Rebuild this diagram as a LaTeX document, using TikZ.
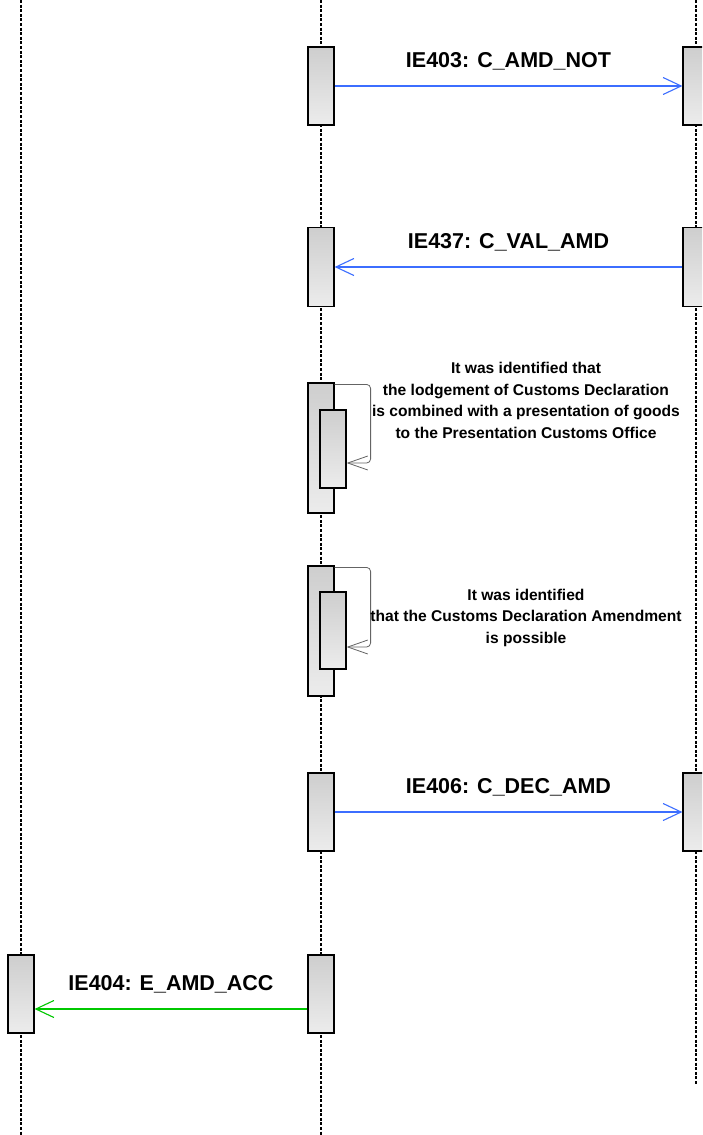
\documentclass[tikz,border=0pt]{standalone}
\usepackage{fontspec}
\setmainfont{Liberation Sans}
\usetikzlibrary{arrows.meta,calc}
\definecolor{msgblue}{RGB}{60,110,255}
\definecolor{msggreen}{RGB}{0,200,0}
\definecolor{loopgray}{RGB}{100,100,100}
\definecolor{boxtop}{RGB}{206,206,206}
\definecolor{boxbot}{RGB}{236,236,236}
\begin{document}
\begin{tikzpicture}[x=1pt,y=-1pt,
  lifeline/.style={line width=1.6pt, dash pattern=on 3pt off 1.6pt},
  actbox/.style={draw=black, line width=1.2pt, top color=boxtop, bottom color=boxbot, minimum width=26pt, inner sep=0pt},
  msg/.style={line width=1.1pt, -{Straight Barb[length=18pt,width=17pt,line width=1.1pt]}},
  lbl/.style={font=\bfseries\fontsize{21.5}{24}\selectfont, yshift=25pt},
  note/.style={font=\bfseries\fontsize{15.6}{21.5}\selectfont, align=center},
  selfloop/.style={draw=loopgray, line width=0.8pt, rounded corners=4pt, -{Straight Barb[length=20pt,width=14pt,line width=0.8pt]}}
]
\clip (0,0) rectangle (702,1135);
\fill[white] (0,0) rectangle (702,1135);
% lifelines
\coordinate (Ltop) at (21,0);
\coordinate (Lbot) at (21,1135);
\coordinate (Mtop) at (321,0);
\coordinate (Mbot) at (321,1135);
\coordinate (Rtop) at (696,0);
\coordinate (Rbot) at (696,1085);
\draw[lifeline] (Ltop) -- (Lbot);
\draw[lifeline] (Mtop) -- (Mbot);
\draw[lifeline] (Rtop) -- (Rbot);
% activation boxes
\node[actbox, minimum height=78pt] (m1) at (321,86) {};
\node[actbox, minimum height=78pt] (r1) at (696,86) {};
\node[actbox, minimum height=79pt] (m2) at (321,267) {};
\node[actbox, minimum height=79pt] (r2) at (696,267) {};
\node[actbox, minimum height=130pt] (m3) at (321,448) {};
\node[actbox, minimum height=78pt] (i3) at (333,449) {};
\node[actbox, minimum height=130pt] (m4) at (321,631) {};
\node[actbox, minimum height=77pt] (i4) at (333,630.5) {};
\node[actbox, minimum height=78pt] (m5) at (321,812) {};
\node[actbox, minimum height=78pt] (r5) at (696,812) {};
\node[actbox, minimum height=78pt] (m6) at (321,994) {};
\node[actbox, minimum height=78pt] (l6) at (21,994) {};
% messages
\draw[msg, msgblue] (m1.east) -- node[lbl, text=black] {IE403: C\_AMD\_NOT} (r1.west);
\draw[msg, msgblue] (r2.west) -- node[lbl, text=black] {IE437: C\_VAL\_AMD} (m2.east);
\draw[msg, msgblue] (m5.east) -- node[lbl, text=black] {IE406: C\_DEC\_AMD} (r5.west);
\draw[msg, msggreen] ([yshift=-15pt]m6.west) -- node[lbl, text=black] {IE404: E\_AMD\_ACC} ([yshift=-15pt]l6.east);
% self messages
\draw[selfloop] ([yshift=-2pt]m3.north east) -- ++(36,0) |- ([yshift=-14pt]i3.east);
\draw[selfloop] ([yshift=-2pt]m4.north east) -- ++(36,0) |- ([yshift=-16.5pt]i4.east);
\node[note] (n3) at (526,400.5) {It was identified that\\the lodgement of Customs Declaration\\is combined with a presentation of goods\\to the Presentation Customs Office};
\node[note] (n4) at (526,617.5) {It was identified\\that the Customs Declaration Amendment\\is possible};
\end{tikzpicture}
\end{document}
